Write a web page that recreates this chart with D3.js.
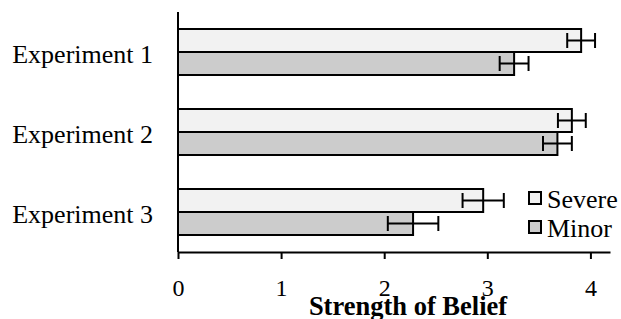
<!DOCTYPE html>
<html><head><meta charset="utf-8">
<script src="https://cdn.jsdelivr.net/npm/d3@7"></script>
<style>body{margin:0;background:#fff;} svg{display:block;}</style>
</head><body>
<svg id="chart" width="621" height="319"></svg>
<script>
const categories = ["Experiment 1", "Experiment 2", "Experiment 3"];
const seriesNames = ["Severe", "Minor"];
const severeValues = [3.91, 3.82, 2.96];
const minorValues = [3.26, 3.68, 2.28];
const severeErrors = [0.135, 0.135, 0.20];
const minorErrors = [0.14, 0.14, 0.245];
const tickValues = [0, 1, 2, 3, 4];
const colors = ["#f2f2f2", "#cccccc"];

(function () {
const svg = d3.select("#chart");
const font = "'Liberation Serif', 'Times New Roman', serif";
const mLeft = 178, mRight = 610, mTop = 12, mBottom = 252;

const x = d3.scaleLinear().domain([0, 4.19]).range([mLeft, mRight]);
const y0 = d3.scaleBand().domain(categories).range([mTop, mBottom]).paddingInner(0.425).paddingOuter(0.2125);
const y1 = d3.scaleBand().domain(seriesNames).range([0, y0.bandwidth()]);

const data = categories.map((c, i) => ({
  cat: c,
  vals: [
    {s: "Severe", v: severeValues[i], e: severeErrors[i]},
    {s: "Minor", v: minorValues[i], e: minorErrors[i]}
  ]
}));

const g = svg.selectAll("g.grp").data(data).join("g").attr("class", "grp")
  .attr("transform", d => `translate(0,${y0(d.cat)})`);

g.selectAll("rect").data(d => d.vals).join("rect")
  .attr("x", x(0))
  .attr("y", d => y1(d.s))
  .attr("width", d => x(d.v) - x(0))
  .attr("height", y1.bandwidth())
  .attr("fill", (d, i) => colors[i])
  .attr("stroke", "#000").attr("stroke-width", 2);

const eb = g.selectAll("g.err").data(d => d.vals).join("g").attr("class", "err")
  .attr("stroke", "#000").attr("stroke-width", 2);
const cy = d => y1(d.s) + y1.bandwidth() / 2;
eb.append("line")
  .attr("x1", d => x(d.v - d.e)).attr("x2", d => x(d.v + d.e))
  .attr("y1", cy).attr("y2", cy);
eb.append("line")
  .attr("x1", d => x(d.v - d.e)).attr("x2", d => x(d.v - d.e))
  .attr("y1", d => cy(d) - 7.5).attr("y2", d => cy(d) + 7.5);
eb.append("line")
  .attr("x1", d => x(d.v + d.e)).attr("x2", d => x(d.v + d.e))
  .attr("y1", d => cy(d) - 7.5).attr("y2", d => cy(d) + 7.5);

// x axis
const xAxis = svg.append("g").attr("transform", `translate(0,${mBottom})`)
  .call(d3.axisBottom(x).tickValues(tickValues).tickSize(7).tickSizeOuter(0).tickFormat(d3.format("d")));
xAxis.select(".domain").attr("stroke-width", 2);
xAxis.selectAll(".tick line").attr("stroke-width", 2);
xAxis.selectAll("text").attr("font-family", font).attr("font-size", 24).attr("fill", "#000")
  .attr("y", 44).attr("dy", 0);

// y axis
const yAxis = svg.append("g").attr("transform", `translate(${mLeft},0)`)
  .call(d3.axisLeft(y0).tickSize(0).tickPadding(25));
yAxis.select(".domain").attr("stroke-width", 2).attr("d", `M0,${mTop}V${mBottom}`);
yAxis.selectAll("text").attr("font-family", font).attr("font-size", 26).attr("fill", "#000")
  .attr("dy", 11);

// axis title
svg.append("text").attr("x", 408).attr("y", 315).attr("text-anchor", "middle")
  .attr("font-family", font).attr("font-weight", "bold").attr("font-size", 26.5)
  .text("Strength of Belief");

// legend
const leg = svg.append("g").attr("transform", "translate(528,191)");
const li = leg.selectAll("g").data(seriesNames).join("g")
  .attr("transform", (d, i) => `translate(0,${i * 29})`);
li.append("rect").attr("x", 1).attr("y", 1).attr("width", 12).attr("height", 12)
  .attr("fill", (d, i) => colors[i]).attr("stroke", "#000").attr("stroke-width", 2);
li.append("text").attr("x", 19).attr("y", 16.5)
  .attr("font-family", font).attr("font-size", 26).text(d => d);
})();
</script>
</body></html>
